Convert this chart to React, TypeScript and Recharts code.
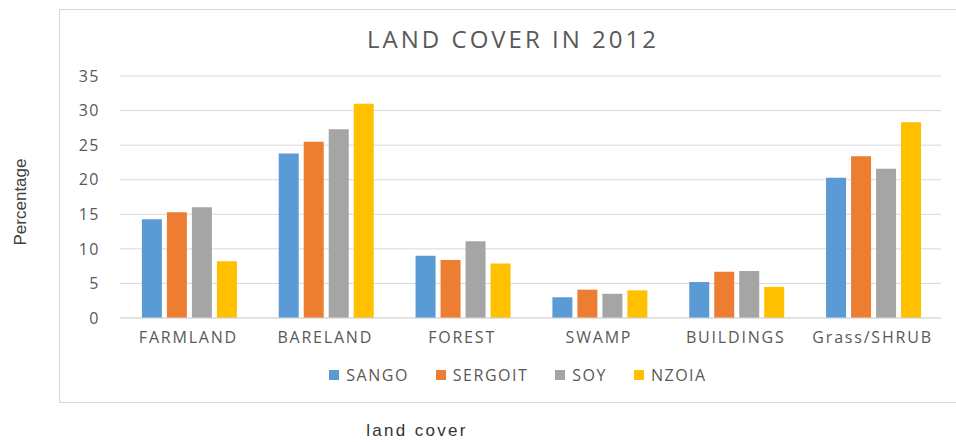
import React from 'react';
import { BarChart, Bar, XAxis, YAxis, CartesianGrid, Legend } from 'recharts';

const categories = ['FARMLAND', 'BARELAND', 'FOREST', 'SWAMP', 'BUILDINGS', 'Grass/SHRUB'];
const seriesNames = ['SANGO', 'SERGOIT', 'SOY', 'NZOIA'];
const sango   = [14.3, 23.8, 9.0, 3.0, 5.2, 20.3];
const sergoit = [15.3, 25.5, 8.4, 4.1, 6.7, 23.4];
const soy     = [16.0, 27.3, 11.1, 3.5, 6.8, 21.6];
const nzoia   = [8.2, 31.0, 7.9, 4.0, 4.5, 28.3];
const yTicks  = [0, 5, 10, 15, 20, 25, 30, 35];

const data = categories.map((name, i) => ({
  name,
  SANGO:   sango[i],
  SERGOIT: sergoit[i],
  SOY:     soy[i],
  NZOIA:   nzoia[i],
}));

const FONT = '"Open Sans", "DejaVu Sans", sans-serif';
const GREY = '#595959';

// legend drawn as one centred row of square swatches, in series order
function LegendRow(props: any): React.JSX.Element {
  const items = [...(props.payload || [])].sort(
    (a: any, b: any) => seriesNames.indexOf(a.value) - seriesNames.indexOf(b.value),
  );
  return (
    <div style={{ display: 'flex', justifyContent: 'center', fontFamily: FONT, fontSize: 16, color: GREY, letterSpacing: 1.5 }}>
      {items.map((it: any, i: number) => (
        <div key={it.value} style={{ display: 'flex', alignItems: 'center', marginLeft: i === 0 ? 0 : 27 }}>
          <span style={{ width: 10, height: 10, background: it.color, marginRight: 7, display: 'inline-block' }} />
          <span>{it.value}</span>
        </div>
      ))}
    </div>
  );
}

export default function App(): React.JSX.Element {
  return (
    <div style={{ position: 'absolute', left: 0, top: 0, width: 956, height: 442, background: '#fff', overflow: 'hidden' }}>
      <div style={{ position: 'absolute', left: 59, top: 9, width: 920, height: 392, border: '1px solid #d6d6d6' }} />
      <div style={{ position: 'absolute', left: 0, top: 0 }}>
        <BarChart
          width={956}
          height={442}
          data={data}
          margin={{ top: 76, right: 15, bottom: 94, left: 0 }}
          barCategoryGap="16%"
          barGap={5}
        >
          <CartesianGrid vertical={false} stroke="#d9d9d9" />
          <XAxis
            dataKey="name"
            interval={0}
            height={30}
            tickLine={false}
            tickSize={0}
            tickMargin={14}
            axisLine={{ stroke: '#d9d9d9' }}
            tick={{ fontSize: 16, fill: GREY, fontFamily: FONT, letterSpacing: 1.8 }}
          />
          <YAxis
            width={120}
            domain={[0, 35]}
            ticks={yTicks}
            axisLine={false}
            tickLine={false}
            tickSize={0}
            tickMargin={20}
            tick={{ fontSize: 16, fill: GREY, fontFamily: FONT, letterSpacing: 1.5 }}
          />
          <Legend
            layout="horizontal"
            verticalAlign="middle"
            content={LegendRow}
            wrapperStyle={{ position: 'absolute', top: 364, left: 60, width: 916, height: 22 }}
          />
          <Bar dataKey="SANGO" fill="#5b9bd5" isAnimationActive={false} />
          <Bar dataKey="SERGOIT" fill="#ed7d31" isAnimationActive={false} />
          <Bar dataKey="SOY" fill="#a5a5a5" isAnimationActive={false} />
          <Bar dataKey="NZOIA" fill="#ffc000" isAnimationActive={false} />
        </BarChart>
      </div>
      <svg width={956} height={442} style={{ position: 'absolute', left: 0, top: 0, pointerEvents: 'none' }}>
        <text x={513} y={48} textAnchor="middle" fontFamily={FONT} fontSize={24} fill={GREY} style={{ letterSpacing: '3px' }}>
          LAND COVER IN 2012
        </text>
        <text
          x={26}
          y={202}
          textAnchor="middle"
          transform="rotate(-90 26 202)"
          fontFamily='"Liberation Sans", Arial, sans-serif'
          fontSize={17}
          fill="#404040"
        >
          Percentage
        </text>
        <text x={417} y={436} textAnchor="middle" fontFamily='"Liberation Sans", Arial, sans-serif' fontSize={17} fill="#333" style={{ letterSpacing: '2.3px' }}>
          land cover
        </text>
      </svg>
    </div>
  );
}
